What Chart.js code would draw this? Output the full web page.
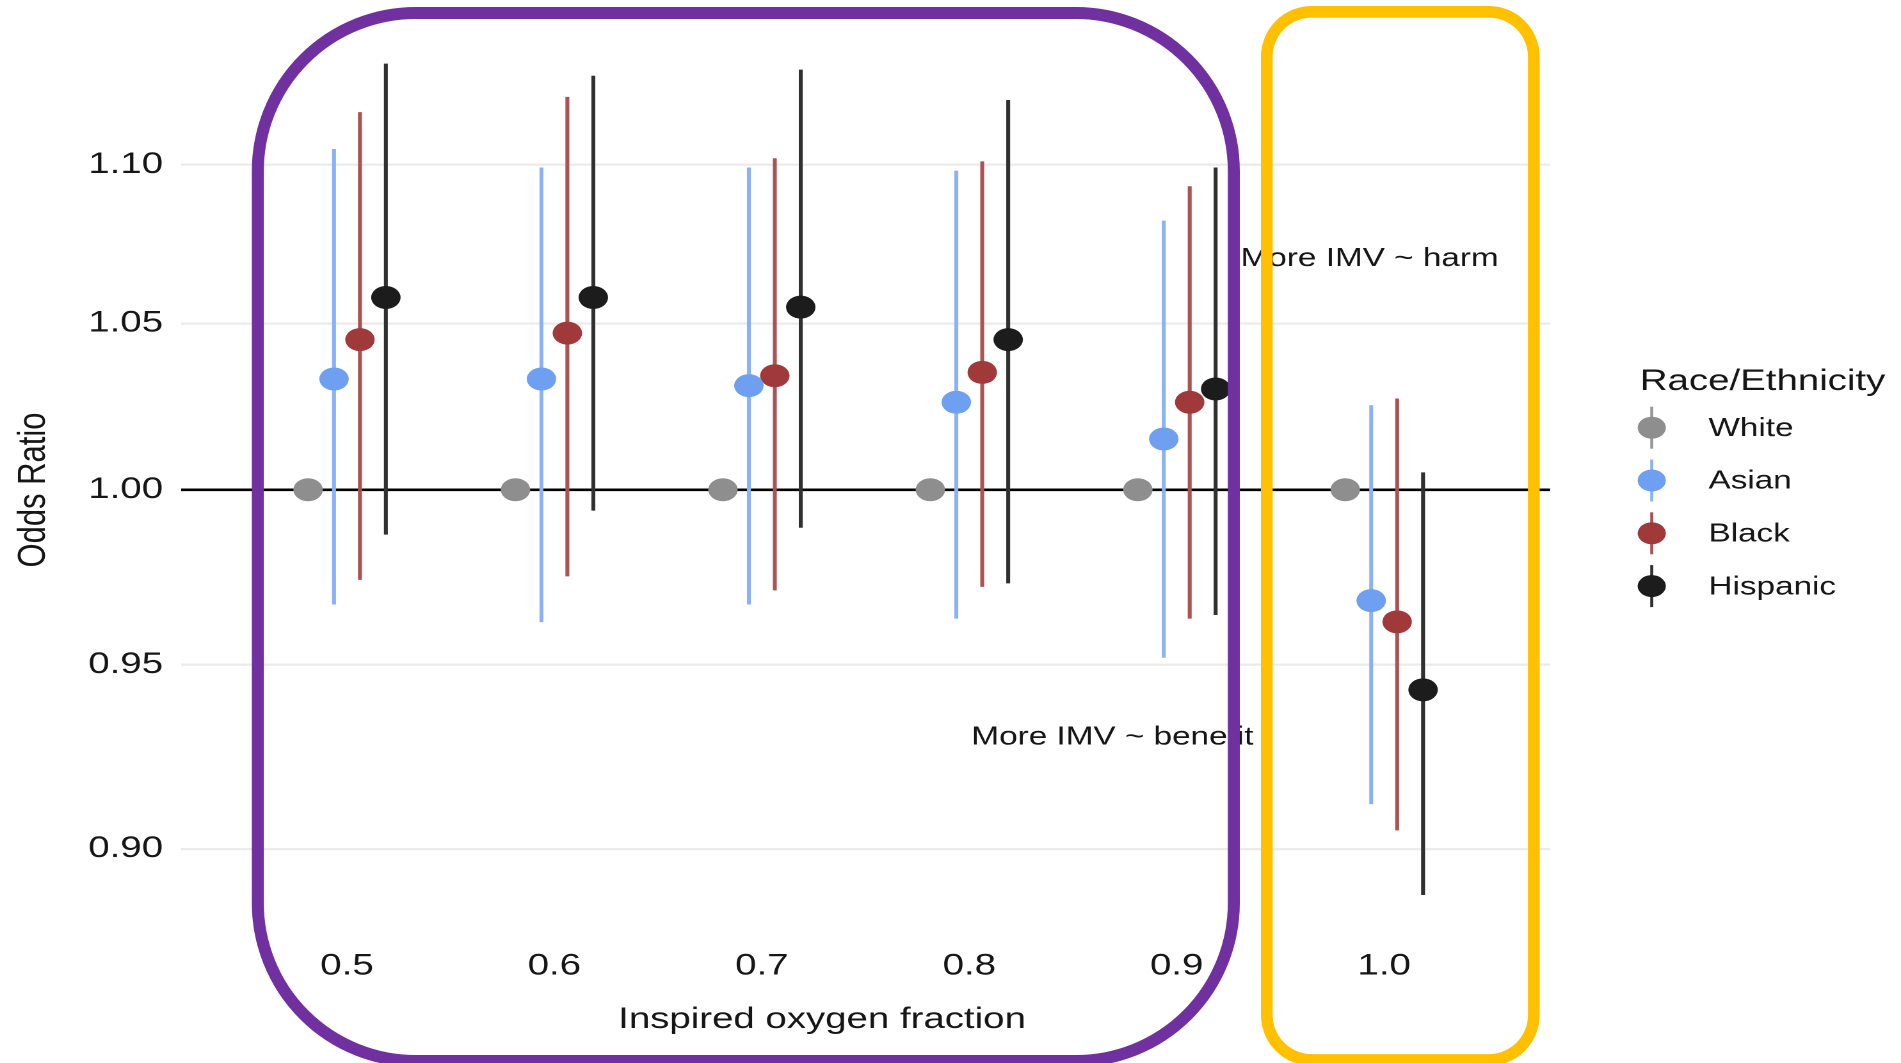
<!DOCTYPE html>
<html>
<head>
<meta charset="utf-8">
<title>Odds ratio by inspired oxygen fraction</title>
<script src="https://cdn.jsdelivr.net/npm/chart.js@4.4.1/dist/chart.umd.min.js"></script>
<style>
  html, body { margin: 0; padding: 0; background: #fff; overflow: hidden; }
  /* the source figure is stretched sideways, so the chart is drawn narrower and widened */
  #wrap { position: absolute; left: 0; top: 0; width: 1485px; height: 1063px;
          transform: scaleX(1.28013); transform-origin: 0 0; }
</style>
</head>
<body>
<div id="wrap"><canvas id="orChart"></canvas></div>
<script>
// Inspired oxygen fraction (x categories)
const fio2 = [0.5, 0.6, 0.7, 0.8, 0.9, 1.0];
const yTicks = [0.90, 0.95, 1.00, 1.05, 1.10];

// Odds ratios with 95% CI, White is the reference group
const whiteOR = [1, 1, 1, 1, 1, 1];
const asianOR = [1.033, 1.033, 1.031, 1.026, 1.015, 0.968];
const asianLo = [0.967, 0.962, 0.967, 0.963, 0.952, 0.912];
const asianHi = [1.105, 1.099, 1.099, 1.098, 1.082, 1.025];
const blackOR = [1.045, 1.047, 1.034, 1.035, 1.026, 0.962];
const blackLo = [0.974, 0.975, 0.971, 0.972, 0.963, 0.905];
const blackHi = [1.117, 1.122, 1.102, 1.101, 1.093, 1.027];
const hispOR  = [1.058, 1.058, 1.055, 1.045, 1.030, 0.943];
const hispLo  = [0.987, 0.994, 0.989, 0.973, 0.964, 0.888];
const hispHi  = [1.133, 1.129, 1.131, 1.121, 1.099, 1.005];

const STRETCH = 1901 / 1485;
const FONT = '"Liberation Sans", Arial, Helvetica, sans-serif';
const INK = '#161616';

const groups = [
    { name: 'White',    or: whiteOR, lo: null,    hi: null,    dot: '#8e8e8e', line: '#9a9a9a' },
    { name: 'Asian',    or: asianOR, lo: asianLo, hi: asianHi, dot: '#6e9ff0', line: '#8ab2f4' },
    { name: 'Black',    or: blackOR, lo: blackLo, hi: blackHi, dot: '#a03a3a', line: '#ad5252' },
    { name: 'Hispanic', or: hispOR,  lo: hispLo,  hi: hispHi,  dot: '#1c1c1c', line: '#303030' }
];
// position_dodge spacing in x units
const dodge = [-0.01875, -0.00625, 0.00625, 0.01875];

const datasets = [];
groups.forEach((g, k) => {
    if (g.lo) {
        datasets.push({
            type: 'bar',
            label: g.name + ' CI',
            data: fio2.map((x, i) => ({ x: x + dodge[k], y: [g.lo[i], g.hi[i]] })),
            backgroundColor: g.line,
            borderWidth: 0,
            grouped: false,
            barThickness: 2.4,
            maxBarThickness: 2.4,
            order: 2
        });
    }
    datasets.push({
        type: 'scatter',
        label: g.name,
        data: fio2.map((x, i) => ({ x: x + dodge[k], y: g.or[i] })),
        pointRadius: 11.5,
        pointBackgroundColor: g.dot,
        pointBorderWidth: 0,
        order: 1
    });
});

function roundRectPath(ctx, x, y, w, h, r) {
    ctx.beginPath();
    ctx.moveTo(x + r, y);
    ctx.lineTo(x + w - r, y);
    ctx.arcTo(x + w, y, x + w, y + r, r);
    ctx.lineTo(x + w, y + h - r);
    ctx.arcTo(x + w, y + h, x + w - r, y + h, r);
    ctx.lineTo(x + r, y + h);
    ctx.arcTo(x, y + h, x, y + h - r, r);
    ctx.lineTo(x, y + r);
    ctx.arcTo(x, y, x + r, y, r);
    ctx.closePath();
}

const overlay = {
    id: 'overlay',
    afterDraw(chart) {
        const ctx = chart.ctx;
        const xs = chart.scales.x, ys = chart.scales.y;
        ctx.save();

        // annotations inside the panel
        ctx.fillStyle = INK;
        ctx.font = '26px ' + FONT;
        ctx.textAlign = 'center';
        ctx.textBaseline = 'middle';
        ctx.fillText('More IMV ~ harm', xs.getPixelForValue(0.993), ys.getPixelForValue(1.07));
        ctx.fillText('More IMV ~ benefit', xs.getPixelForValue(0.869), ys.getPixelForValue(0.93));

        // axis titles
        ctx.font = '30px ' + FONT;
        ctx.textBaseline = 'alphabetic';
        ctx.fillText('Inspired oxygen fraction', xs.getPixelForValue(0.729), 1028);

        ctx.save();
        ctx.translate(26.6, 490);
        ctx.rotate(-Math.PI / 2);
        ctx.font = '31px ' + FONT;
        ctx.textBaseline = 'middle';
        ctx.fillText('Odds Ratio', 0, 0);
        ctx.restore();

        // legend
        ctx.textAlign = 'left';
        ctx.textBaseline = 'alphabetic';
        ctx.fillText('Race/Ethnicity', 1281, 390);
        ctx.font = '26px ' + FONT;
        ctx.textBaseline = 'middle';
        groups.forEach((g, k) => {
            const cx = 1290.3, cy = 427.7 + k * 52.8;
            ctx.strokeStyle = g.line;
            ctx.lineWidth = 2.4;
            ctx.beginPath();
            ctx.moveTo(cx, cy - 21);
            ctx.lineTo(cx, cy + 21);
            ctx.stroke();
            ctx.fillStyle = g.dot;
            ctx.beginPath();
            ctx.arc(cx, cy, 11, 0, Math.PI * 2);
            ctx.fill();
            ctx.fillStyle = INK;
            ctx.fillText(g.name, 1334.6, cy + 1);
        });

        // highlight frames, drawn in page pixels so the stroke stays even
        ctx.scale(1 / STRETCH, 1);
        ctx.lineWidth = 12;
        ctx.strokeStyle = '#7030A0';
        roundRectPath(ctx, 257.8, 13, 976, 1048, 158);
        ctx.stroke();
        ctx.lineWidth = 11.7;
        ctx.strokeStyle = '#FFC000';
        roundRectPath(ctx, 1266.8, 11.8, 267, 1048.2, 45);
        ctx.stroke();

        ctx.restore();
    }
};

Chart.defaults.font.family = FONT;

new Chart(document.getElementById('orChart'), {
    type: 'scatter',
    data: { datasets: datasets },
    options: {
        responsive: true,
        maintainAspectRatio: false,
        devicePixelRatio: 2,
        animation: false,
        events: [],
        layout: { padding: { top: 22.7, right: 274.1, left: 0, bottom: 0 } },
        plugins: {
            legend: { display: false },
            tooltip: { enabled: false }
        },
        scales: {
            x: {
                type: 'linear',
                min: 0.42,
                max: 1.08,
                offset: false,
                afterBuildTicks: s => { s.ticks = fio2.map(v => ({ value: v })); },
                afterFit: s => { s.height = 125; },
                ticks: {
                    callback: v => Number(v).toFixed(1),
                    font: { size: 30 },
                    color: INK,
                    padding: 10,
                    maxRotation: 0,
                    autoSkip: false
                },
                grid: { display: false, drawTicks: false },
                border: { display: false }
            },
            y: {
                type: 'logarithmic',
                min: 0.8768,
                max: 1.1468,
                afterBuildTicks: s => { s.ticks = yTicks.map(v => ({ value: v })); },
                afterFit: s => {
                    s.width = 141.4;
                    // panel edges come from the layout padding, not from the tick label heights
                    s.paddingTop = 0;
                    s.paddingBottom = 0;
                },
                ticks: {
                    callback: v => Number(v).toFixed(2),
                    font: { size: 30 },
                    color: INK,
                    padding: 14
                },
                grid: {
                    drawTicks: false,
                    color: c => (c.tick && c.tick.value === 1) ? '#000000' : '#ebebeb',
                    lineWidth: c => (c.tick && c.tick.value === 1) ? 2.6 : 2.2
                },
                border: { display: false }
            }
        }
    },
    plugins: [overlay]
});
</script>
</body>
</html>
